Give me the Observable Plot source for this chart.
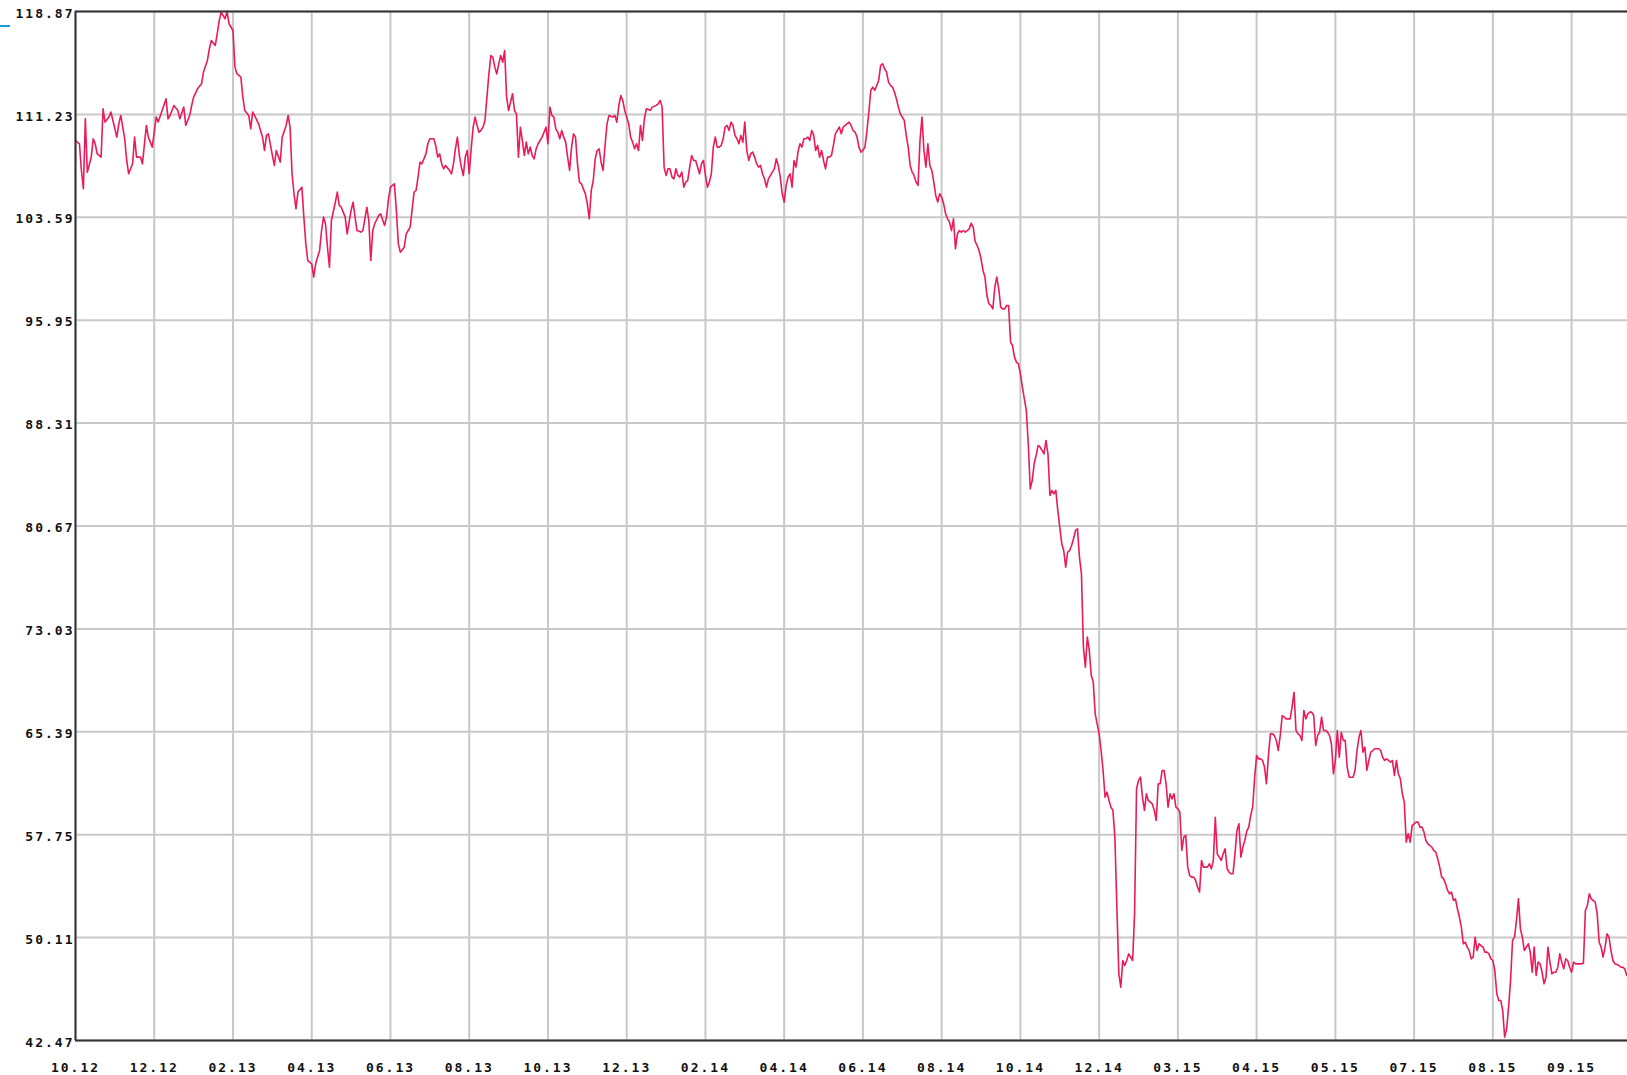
<!DOCTYPE html>
<html>
<head>
<meta charset="utf-8">
<script src="https://cdn.jsdelivr.net/npm/d3@7"></script>
<script src="https://cdn.jsdelivr.net/npm/@observablehq/plot@0.6"></script>
<style>
  html, body { margin: 0; padding: 0; background: #fff; }
  #chart { position: absolute; left: 0; top: 0; }
  #chart svg text { letter-spacing: 2px; }
  .mark { position: absolute; left: 0; top: 25px; width: 10px; height: 2px; background: #1a9ad6; }
</style>
</head>
<body>
<div id="chart"></div>
<div class="mark"></div>
<script>
// x axis categories (trading-day index of each labelled gridline) and their labels
const tickDays = [0, 40, 80, 120, 160, 200, 240, 280, 320, 360, 400, 440, 480, 520, 560, 600, 640, 680, 720, 760];
const tickLabels = ["10.12", "12.12", "02.13", "04.13", "06.13", "08.13", "10.13", "12.13", "02.14", "04.14",
                    "06.14", "08.14", "10.14", "12.14", "03.15", "04.15", "05.15", "07.15", "08.15", "09.15"];
// y axis tick values
const yTicks = [42.47, 50.11, 57.75, 65.39, 73.03, 80.67, 88.31, 95.95, 103.59, 111.23, 118.87];

// series: trading-day index and price
const days = [
0,2,3,4,5,6,8,9,10,11,13,14,15,17,18,19,21,22,23,25,26,27,29,30,31,33,34,36,37,39,41,42,44,46,47,48,50,52,53,55,56,58,59,60,62,64,65,67,68,69,71,72,73,74,76,77,78,80,81,82,84,85,86,88,89,90,91,93,95,96,97,98,100,101,102,104,105,107,108,109,110,111,112,113,115,116,117,118,120,121,122,124,
125,126,127,128,129,130,132,133,134,135,137,138,140,141,142,143,145,146,148,149,150,151,152,154,155,157,158,159,160,162,163,164,165,167,168,169,170,172,173,174,175,176,177,178,179,180,182,183,184,185,186,187,188,190,191,192,193,194,195,196,197,198,199,200,201,202,203,204,205,206,207,208,209,210,211,212,213,214,215,216,217,218,219,220,221,222,223,224,225,226,227,228,229,230,231,232,233,234,235,236,237,238,239,240,241,242,243,244,245,246,247,248,249,250,251,252,253,254,255,256,257,258,259,260,261,262,263,264,265,266,267,268,269,270,271,273,274,275,276,277,278,279,280,281,282,
283,284,285,286,287,288,289,290,292,293,295,296,297,298,299,300,301,302,303,304,305,306,307,308,309,310,311,312,313,314,315,316,317,318,319,320,321,322,323,324,325,326,327,328,329,330,331,332,333,334,335,336,337,338,339,340,341,342,343,344,345,346,347,348,349,350,351,352,353,354,355,356,357,358,359,360,361,362,363,364,365,366,367,368,369,370,371,372,373,374,375,376,377,378,379,380,381,382,383,384,385,386,387,388,389,390,391,392,393,394,395,396,397,398,399,400,401,402,403,404,405,406,407,408,409,410,411,412,413,414,415,416,417,418,419,420,421,422,423,424,425,426,427,428,429,430,431,432,433,434,435,436,437,438,439,440,441,442,443,444,445,
446,447,448,449,450,451,452,453,454,455,456,457,458,459,460,461,462,463,464,465,466,467,468,469,470,471,472,473,474,475,476,477,478,479,480,481,482,483,484,485,486,487,488,489,490,491,492,493,494,495,496,497,498,499,500,501,502,503,504,505,506,507,508,509,510,511,512,
513,514,515,516,517,518,519,520,521,522,523,524,525,526,527,528,529,530,531,532,533,534,535,536,537,538,539,540,541,542,543,544,545,546,547,548,549,550,551,552,553,554,555,556,557,558,559,560,561,562,563,564,565,566,567,568,569,570,571,572,573,574,575,576,577,578,579,580,581,
582,583,584,585,586,587,588,589,590,591,592,593,594,595,596,597,598,599,600,601,602,603,604,605,606,607,608,609,610,611,612,613,614,615,616,617,618,619,620,621,622,623,624,625,626,627,628,629,630,631,632,633,634,635,636,637,638,639,640,641,642,643,644,645,646,647,648,649,650,651,652,653,654,655,656,657,658,659,660,661,662,663,664,665,666,667,668,669,670,671,672,673,674,675,676,677,678,679,680,681,682,683,684,685,686,687,688,689,690,691,692,693,
694,695,696,697,698,699,700,701,702,703,704,705,706,707,708,709,710,711,712,713,714,715,716,717,718,719,720,721,722,723,724,725,726,727,728,729,730,731,732,733,734,735,736,737,738,739,740,741,742,743,744,745,746,747,748,749,750,751,752,753,754,755,756,757,758,759,760,761,762,763,764,765,766,767,768,769,770,771,772,773,774,775,776,777,778,779,780,781,782,783,784,785,786,787,788
];
const values = [
109.29,109.05,107.07,105.71,110.90,106.94,108.06,109.42,109.05,108.31,108.06,111.65,110.66,111.03,111.40,110.78,109.54,110.53,111.15,109.42,107.81,106.82,107.56,109.54,108.06,108.06,107.56,110.41,109.54,108.80,111.03,110.66,111.52,112.39,110.90,111.15,111.89,111.52,110.90,111.77,110.41,111.15,111.89,112.51,113.13,113.50,114.37,115.24,116.10,116.72,116.35,117.22,118.20,118.80,118.33,118.87,117.96,117.46,114.74,114.25,114.00,112.51,111.52,111.15,110.16,111.40,111.15,110.53,109.54,108.55,109.67,109.79,108.18,107.44,108.55,107.69,109.54,110.41,111.15,110.29,106.82,105.34,104.22,105.46,105.83,103.60,101.62,100.38,100.14,99.15,100.14,101.13,
102.61,103.60,103.11,101.37,99.89,103.35,104.71,105.46,104.47,104.34,103.60,102.36,104.10,104.71,103.60,102.61,102.49,102.61,104.34,103.35,100.38,102.61,103.11,103.72,103.85,102.98,103.60,104.96,105.83,106.08,104.10,101.62,101.00,101.37,102.36,102.61,102.86,105.46,105.58,106.57,107.68,107.56,107.93,108.30,109.05,109.42,109.42,108.92,108.06,108.30,107.56,107.19,107.44,107.07,106.82,107.56,108.67,109.54,108.18,107.31,106.69,108.06,108.55,106.82,108.67,110.28,111.03,110.41,109.91,110.04,110.28,110.78,112.51,114.24,115.60,115.48,114.74,114.24,114.98,115.60,115.11,115.97,112.51,111.52,112.14,112.76,111.52,111.27,108.05,110.28,109.29,108.18,109.17,108.30,108.80,108.18,107.93,108.67,109.05,109.29,109.54,109.91,110.28,109.05,111.77,111.15,111.03,110.16,109.91,109.42,110.04,109.54,109.17,108.06,107.07,108.80,109.79,109.54,107.56,106.20,106.08,105.70,105.33,104.59,103.48,105.58,106.32,107.93,108.55,108.67,107.68,107.07,108.92,110.53,111.15,111.03,111.15,110.65,111.89,112.63,112.26,111.52,111.03,110.53,109.54,
109.17,108.68,109.05,108.55,110.41,109.30,110.91,111.65,111.53,111.77,111.90,112.02,112.27,111.77,107.32,106.70,107.19,107.19,106.58,106.45,107.19,106.70,106.58,106.95,105.83,106.20,106.33,107.32,108.18,107.81,107.81,107.32,106.82,107.57,107.81,106.70,105.83,106.20,106.82,108.80,109.55,108.80,108.80,108.93,109.42,110.29,110.41,110.04,110.66,110.41,109.67,109.42,109.05,109.67,109.17,110.66,108.56,107.81,108.31,108.43,108.06,107.57,107.32,107.44,106.82,106.45,105.83,106.45,106.70,106.95,107.19,107.94,107.44,106.58,105.34,104.72,105.96,106.58,106.82,105.83,107.81,107.32,108.43,109.05,108.80,109.42,109.42,109.55,109.30,110.04,109.67,108.55,108.93,108.06,108.55,107.81,107.19,108.06,108.06,108.18,108.93,109.79,110.04,110.29,109.79,110.29,110.41,110.54,110.66,110.41,110.04,109.92,109.55,108.80,108.43,108.55,108.80,109.92,111.40,113.01,113.26,113.01,113.38,113.75,114.87,114.99,114.62,114.37,113.63,113.38,113.26,112.89,112.39,111.77,111.28,111.03,110.78,109.67,108.80,107.44,106.95,106.70,106.20,105.96,109.30,111.03,108.55,107.32,109.05,107.44,107.07,106.20,105.21,104.72,105.34,105.09,104.60,103.85,103.48,103.23,102.60,
103.48,101.25,102.36,102.61,102.49,102.61,102.49,102.61,102.73,103.15,102.86,101.80,101.50,101.13,100.51,99.64,99.15,97.78,97.17,97.04,96.79,98.40,99.15,98.28,96.92,96.79,96.79,97.04,97.04,94.32,94.07,93.21,92.84,92.71,91.97,90.98,90.11,89.25,86.77,83.43,84.05,85.29,85.91,86.65,86.52,86.28,86.03,87.02,86.03,82.93,83.31,83.06,83.31,81.82,80.58,79.35,78.85,77.61,78.73,78.85,79.22,79.72,80.34,80.46,78.36,77.12,71.68,
70.19,72.42,71.43,69.57,69.08,66.72,65.98,65.24,64.00,62.52,60.54,60.91,60.29,59.79,59.55,57.57,52.37,47.42,46.43,48.41,48.04,48.41,48.90,48.65,48.41,51.88,61.16,61.78,62.02,60.54,59.55,60.78,60.29,60.17,60.04,59.55,58.80,61.53,61.53,62.52,62.52,61.53,59.79,60.79,60.41,60.79,59.79,59.67,59.42,56.58,57.57,57.70,55.34,54.72,54.60,54.60,54.35,53.86,53.49,55.83,55.34,55.34,55.34,55.59,55.22,55.83,59.05,56.33,56.08,
55.84,56.33,56.70,55.22,54.97,54.85,54.85,56.33,58.06,58.56,56.08,56.82,57.32,58.01,58.31,59.18,59.80,62.02,63.63,63.38,63.38,63.26,62.77,61.53,63.63,65.24,65.24,65.12,64.75,64.00,65.12,66.60,66.48,66.35,66.35,66.35,67.22,68.33,65.49,65.24,65.12,64.75,66.97,66.35,66.73,66.85,66.85,66.60,64.37,65.12,65.36,66.48,65.49,65.49,65.36,65.12,64.50,62.27,63.26,65.49,63.51,65.36,64.75,64.75,62.77,62.02,62.02,62.02,62.52,64.00,64.99,65.49,63.88,64.25,62.52,63.26,63.88,64.00,64.13,64.13,64.13,64.00,63.51,63.26,63.38,63.26,63.14,63.26,62.15,63.26,62.27,61.90,60.79,60.17,57.20,57.82,57.20,58.43,58.56,58.68,58.68,58.31,58.31,57.94,57.32,57.07,56.95,56.82,56.58,56.45,55.96,55.34,
54.60,54.47,54.10,53.61,53.36,53.48,52.86,52.99,52.25,51.63,50.89,49.65,49.77,49.40,49.15,48.53,48.66,50.14,49.15,49.65,49.52,49.40,49.03,49.03,48.90,48.53,48.41,47.67,45.94,45.44,45.44,44.70,42.72,43.34,44.95,46.93,49.90,50.14,51.38,52.99,50.76,50.14,49.15,49.40,49.65,49.03,47.54,49.40,47.30,48.29,48.16,47.54,46.68,47.17,49.40,48.29,47.42,47.54,47.54,47.91,48.90,48.29,47.79,48.53,48.41,47.91,47.54,48.29,48.16,48.16,48.16,48.16,48.21,52.12,52.49,53.36,52.99,52.86,52.74,51.88,49.77,49.40,48.66,49.40,50.39,50.14,49.15,48.41,48.16,48.11,48.04,47.91,47.91,47.79,47.30
];

const data = days.map((d, i) => ({day: d, value: values[i]}));
const labelOf = new Map(tickDays.map((d, i) => [d, tickLabels[i]]));

const chart = Plot.plot({
  width: 1627,
  height: 1075,
  marginLeft: 75,
  marginRight: 0,
  marginTop: 11,
  marginBottom: 35,
  style: {background: "#fff", fontFamily: "'DejaVu Sans Mono', monospace", fontSize: "13px", overflow: "visible"},
  x: {domain: [0, 788.4], label: null},
  y: {domain: [42.47, 118.87], label: null},
  marks: [
    Plot.gridX(tickDays, {stroke: "#c8c8c8", strokeOpacity: 1, strokeWidth: 2}),
    Plot.gridY(yTicks, {stroke: "#c8c8c8", strokeOpacity: 1, strokeWidth: 2}),
    Plot.line(data, {x: "day", y: "value", stroke: "#ea1b5b", strokeWidth: 1.6}),
    Plot.ruleY([118.87], {stroke: "#333", strokeWidth: 2}),
    Plot.ruleY([42.47], {stroke: "#333", strokeWidth: 2}),
    Plot.ruleX([0], {stroke: "#333", strokeWidth: 2}),
    Plot.axisY({ticks: yTicks, tickSize: 0, tickPadding: 1, dy: 2, label: null, tickFormat: d => d.toFixed(2),
                fontWeight: "bold", fill: "#111"}),
    Plot.axisX({ticks: tickDays, tickSize: 0, tickPadding: 22, label: null, tickFormat: d => labelOf.get(d),
                fontWeight: "bold", fill: "#111"})
  ]
});
document.getElementById("chart").appendChild(chart);
</script>
</body>
</html>
